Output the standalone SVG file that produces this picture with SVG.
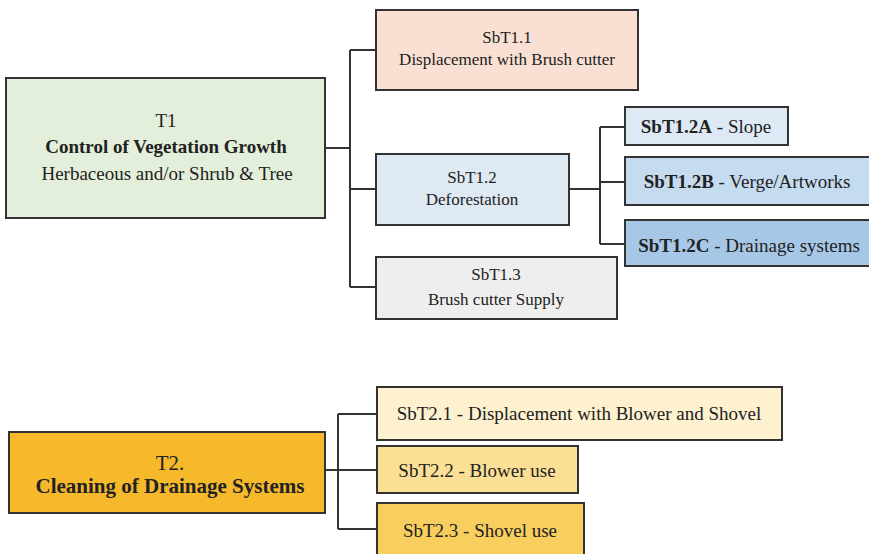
<svg xmlns="http://www.w3.org/2000/svg" width="869" height="554" viewBox="0 0 869 554">
<style>
.box{stroke:#333;stroke-width:2}
.t{font-family:"Liberation Serif","Times New Roman",serif;fill:#222;text-anchor:middle}
.s17{font-size:17px}
.s19{font-size:19px}
.s21{font-size:21px}
.b{font-weight:bold}
.con{fill:none;stroke:#333;stroke-width:2}
</style>
<rect width="869" height="554" fill="#fff"/>
<g id="connectors">
<path class="con" d="M325,148 H350 M350,50 V287 M350,50 H376 M350,189 H376 M350,287 H376"/>
<path class="con" d="M569,189 H600 M600,127 V244 M600,127 H625 M600,182 H625 M600,244 H625"/>
<path class="con" d="M325,470 H338 M338,414 V529 M338,414 H377 M338,470 H377 M338,529 H377"/>
</g>
<g id="T1">
<rect class="box" x="6" y="78" width="319" height="140" fill="#e3efda"/>
<text class="t s19" x="166" y="127">T1</text>
<text class="t s19 b" x="166" y="153">Control of Vegetation Growth</text>
<text class="t s19" x="167" y="180">Herbaceous and/or Shrub &amp; Tree</text>
</g>
<g id="SbT1.1">
<rect class="box" x="376" y="10" width="262" height="80" fill="#f9e0d3"/>
<text class="t s17" x="507" y="43">SbT1.1</text>
<text class="t s17" x="507" y="65">Displacement with Brush cutter</text>
</g>
<g id="SbT1.2">
<rect class="box" x="376" y="154" width="193" height="71" fill="#dfe9f4"/>
<text class="t s17" x="472" y="183">SbT1.2</text>
<text class="t s17" x="472" y="205">Deforestation</text>
</g>
<g id="SbT1.3">
<rect class="box" x="376" y="257" width="241" height="62" fill="#eeeeee"/>
<text class="t s17" x="496" y="280">SbT1.3</text>
<text class="t s17" x="496" y="305">Brush cutter Supply</text>
</g>
<g id="SbT1.2A">
<rect class="box" x="625" y="107" width="163" height="38" fill="#dde9f5"/>
<text class="t s19" x="706" y="133"><tspan class="b">SbT1.2A</tspan> - Slope</text>
</g>
<g id="SbT1.2B">
<rect class="box" x="625" y="157" width="250" height="48" fill="#c4dbf0"/>
<text class="t s19" x="747" y="188"><tspan class="b">SbT1.2B</tspan> - Verge/Artworks</text>
</g>
<g id="SbT1.2C">
<rect class="box" x="625" y="220" width="250" height="46" fill="#a7c7e7"/>
<text class="t s19" x="749" y="252"><tspan class="b">SbT1.2C</tspan> - Drainage systems</text>
</g>
<g id="T2">
<rect class="box" x="9" y="432" width="316" height="81" fill="#f6b92c"/>
<text class="t s21" x="170" y="470">T2.</text>
<text class="t s21 b" x="170" y="493">Cleaning of Drainage Systems</text>
</g>
<g id="SbT2.1">
<rect class="box" x="377" y="387" width="405" height="53" fill="#fdf1d0"/>
<text class="t s19" x="579" y="420">SbT2.1 - Displacement with Blower and Shovel</text>
</g>
<g id="SbT2.2">
<rect class="box" x="377" y="446" width="201" height="47" fill="#fbdf95"/>
<text class="t s19" x="477" y="477">SbT2.2 - Blower use</text>
</g>
<g id="SbT2.3">
<rect class="box" x="377" y="503" width="207" height="60" fill="#f8ce5e"/>
<text class="t s19" x="480" y="537">SbT2.3 - Shovel use</text>
</g>
</svg>
